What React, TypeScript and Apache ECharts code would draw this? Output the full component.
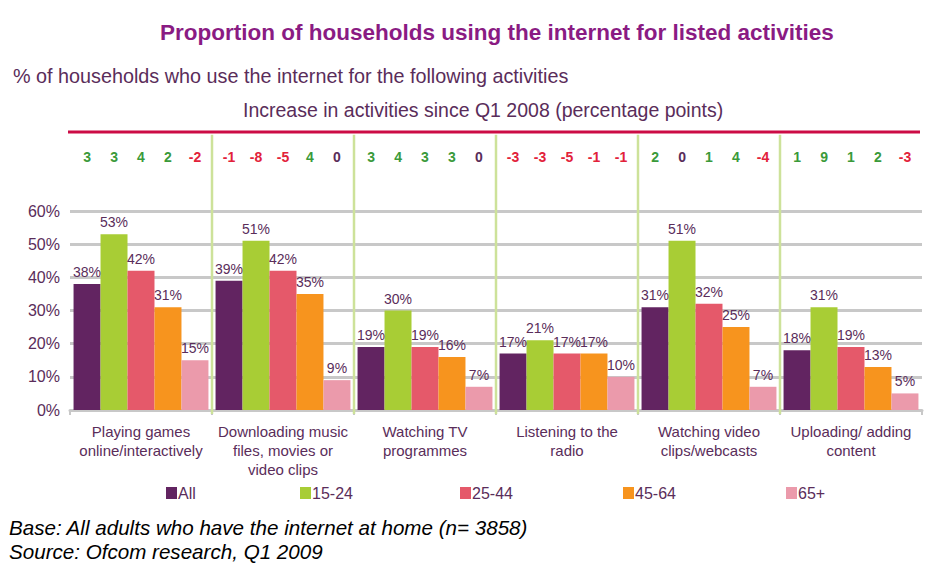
import { useEffect, useRef } from "react";
import * as echarts from "echarts";

// Activities (x categories) and age groups (series)
const categories = [
  "Playing games\nonline/interactively",
  "Downloading music\nfiles, movies or\nvideo clips",
  "Watching TV\nprogrammes",
  "Listening to the\nradio",
  "Watching video\nclips/webcasts",
  "Uploading/ adding\ncontent",
];
const ageGroups = ["All", "15-24", "25-44", "45-64", "65+"];

// % of households using the internet for each activity, Q1 2009
const shareAll = [38, 39, 19, 17, 31, 18];
const share1524 = [53, 51, 30, 21, 51, 31];
const share2544 = [42, 42, 19, 17, 32, 19];
const share4564 = [31, 35, 16, 17, 25, 13];
const share65 = [15, 9, 7, 10, 7, 5];

// Change since Q1 2008, percentage points
const changeAll = [3, -1, 3, -3, 2, 1];
const change1524 = [3, -8, 4, -3, 0, 9];
const change2544 = [4, -5, 3, -5, 1, 1];
const change4564 = [2, 4, 3, -1, 4, 2];
const change65 = [-2, 0, 0, -1, -4, -3];

// Boundaries between activity groups (category index of the group on the right)
const groupBoundaries = [1, 2, 3, 4, 5];

const shares = [shareAll, share1524, share2544, share4564, share65];
const changes = [changeAll, change1524, change2544, change4564, change65];
const seriesColors = ["#622461", "#a8cd35", "#e5596a", "#f7941e", "#eb9aab"];
const legendLefts = [166, 300, 460, 623, 786];

const TEXT = "#5a2d5a";
const FONT = "'Liberation Sans', Arial, sans-serif";

function changeColor(v: number) {
  if (v > 0) return "#3a9a3a";
  if (v < 0) return "#e2213a";
  return TEXT;
}

export default function App() {
  const ref = useRef<HTMLDivElement>(null);

  useEffect(() => {
    if (!ref.current) return;
    const chart = echarts.init(ref.current, undefined, { renderer: "svg" });

    const barSeries = ageGroups.map((name, i) => ({
      name,
      type: "bar",
      xAxisIndex: 0,
      yAxisIndex: 0,
      barGap: "0%",
      barCategoryGap: "5%",
      itemStyle: { color: seriesColors[i] },
      label: {
        show: true,
        position: "top",
        distance: 5,
        color: TEXT,
        fontFamily: FONT,
        fontSize: 14,
        formatter: "{c}%",
      },
      data: shares[i],
    }));

    // Row of percentage-point changes, one invisible bar per age group
    const changeSeries = ageGroups.map((name, i) => ({
      name: name + " change",
      type: "bar",
      xAxisIndex: 1,
      yAxisIndex: 1,
      barGap: "0%",
      barCategoryGap: "5%",
      itemStyle: { color: "rgba(0,0,0,0)" },
      silent: true,
      label: {
        show: true,
        position: "inside",
        fontFamily: FONT,
        fontWeight: "bold",
        fontSize: 14,
        formatter: (p: any) => String(changes[i][p.dataIndex]),
      },
      data: changes[i].map((v) => ({ value: 1, label: { color: changeColor(v) } })),
    }));

    const separatorSeries = {
      type: "custom",
      xAxisIndex: 0,
      yAxisIndex: 0,
      silent: true,
      z: 1,
      data: groupBoundaries.map((b) => [b, 0]),
      renderItem: (_params: any, api: any) => {
        const idx = api.value(0);
        const base = api.coord([idx, 0]);
        const top = api.coord([idx, 83]);
        const band = api.size([1, 0])[0];
        const x = Math.round(base[0] - band / 2);
        return {
          type: "line",
          shape: { x1: x, y1: top[1], x2: x, y2: base[1] + 4 },
          style: { stroke: "#cde29a", lineWidth: 2.5 },
        };
      },
    };

    const legends = ageGroups.map((name, i) => ({
      data: [name],
      left: legendLefts[i],
      top: 485,
      padding: 0,
      icon: "rect",
      itemWidth: 11,
      itemHeight: 12,
      itemGap: 0,
      textStyle: { color: TEXT, fontFamily: FONT, fontSize: 16, padding: [0, 0, 0, -4] },
      selectedMode: false,
    }));

    chart.setOption({
      animation: false,
      backgroundColor: "#ffffff",
      grid: [
        { left: 70, right: 17, top: 211, bottom: 158 },
        { left: 70, right: 17, top: 147, height: 20 },
      ],
      xAxis: [
        {
          type: "category",
          gridIndex: 0,
          data: categories,
          axisLine: { lineStyle: { color: "#c8c8c8", width: 3 } },
          axisTick: { show: true, length: 5, lineStyle: { color: "#c8c8c8", width: 2 } },
          axisLabel: {
            interval: 0,
            margin: 12,
            color: TEXT,
            fontFamily: FONT,
            fontSize: 15,
            lineHeight: 19,
          },
        },
        { type: "category", gridIndex: 1, data: categories, show: false },
      ],
      yAxis: [
        {
          type: "value",
          gridIndex: 0,
          min: 0,
          max: 60,
          interval: 10,
          axisLine: { show: false },
          axisTick: { show: false },
          axisLabel: {
            formatter: "{value}%",
            margin: 10,
            color: TEXT,
            fontFamily: FONT,
            fontSize: 16,
          },
          splitLine: { lineStyle: { color: "#c8c8c8", width: 3 } },
        },
        { type: "value", gridIndex: 1, min: 0, max: 1, show: false },
      ],
      legend: legends,
      graphic: [
        {
          type: "text",
          left: 160,
          top: 21,
          style: {
            text: "Proportion of households using the internet for listed activities",
            fill: "#8a1b83",
            font: `bold 22.5px ${FONT}`,
          },
        },
        {
          type: "text",
          left: 13,
          top: 66,
          style: {
            text: "% of households who use the internet for the following activities",
            fill: TEXT,
            font: `19.8px ${FONT}`,
          },
        },
        {
          type: "text",
          left: 243,
          top: 100,
          style: {
            text: "Increase in activities since Q1 2008 (percentage points)",
            fill: TEXT,
            font: `19.5px ${FONT}`,
          },
        },
        {
          type: "line",
          shape: { x1: 68, y1: 132, x2: 920, y2: 132 },
          style: { stroke: "#cc0b45", lineWidth: 3 },
        },
        {
          type: "text",
          left: 9,
          top: 517,
          style: {
            text: "Base: All adults who have the internet at home (n= 3858)",
            fill: "#000000",
            font: `italic 20.6px ${FONT}`,
          },
        },
        {
          type: "text",
          left: 9,
          top: 541,
          style: {
            text: "Source: Ofcom research, Q1 2009",
            fill: "#000000",
            font: `italic 20.6px ${FONT}`,
          },
        },
      ],
      series: [...barSeries, ...changeSeries, separatorSeries],
    });

    return () => chart.dispose();
  }, []);

  return (
    <div
      ref={ref}
      style={{ position: "fixed", left: 0, top: 0, width: 939, height: 568, background: "#fff" }}
    />
  );
}
